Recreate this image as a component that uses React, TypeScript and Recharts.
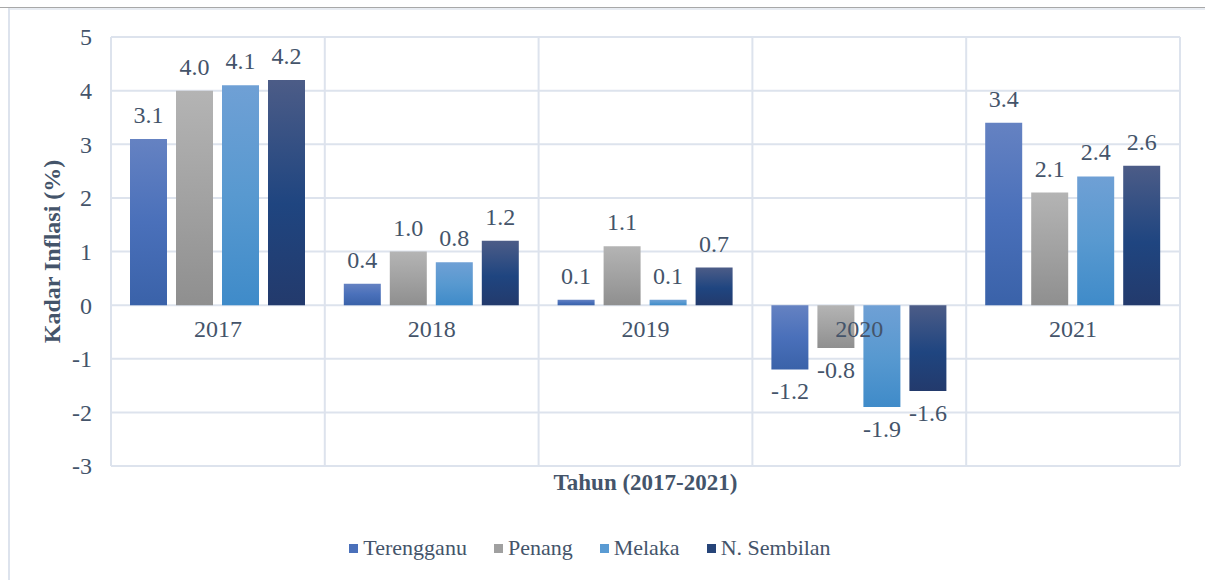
import React from 'react';
import { BarChart, Bar, XAxis, YAxis, CartesianGrid, Legend, LabelList } from 'recharts';

const years = ['2017', '2018', '2019', '2020', '2021'];
const terengganu = [3.1, 0.4, 0.1, -1.2, 3.4];
const penang = [4.0, 1.0, 1.1, -0.8, 2.1];
const melaka = [4.1, 0.8, 0.1, -1.9, 2.4];
const nSembilan = [4.2, 1.2, 0.7, -1.6, 2.6];
const yTicks = [-3, -2, -1, 0, 1, 2, 3, 4, 5];
const seriesNames = ['Terengganu', 'Penang', 'Melaka', 'N. Sembilan'];
const yTitle = 'Kadar Inflasi (%)';
const xTitle = 'Tahun (2017-2021)';

const data = years.map((y, i) => ({
  year: y,
  t: terengganu[i],
  p: penang[i],
  m: melaka[i],
  n: nSembilan[i],
}));

const W = 1205;
const H = 580;
const MARGIN = { top: 37, right: 25, left: 0, bottom: 17 };
const Y_AXIS_W = 111;
const X_AXIS_H = 67;
const LEGEND_H = 30;
const Y_MIN = -3;
const Y_MAX = 5;
const PLOT_TOP = MARGIN.top;
const PLOT_H = H - MARGIN.top - MARGIN.bottom - X_AXIS_H - LEGEND_H;
const ZERO_Y = PLOT_TOP + (PLOT_H * (Y_MAX - 0)) / (Y_MAX - Y_MIN);

const TEXT = '#44546a';
const FONT = '"Liberation Serif", "Times New Roman", serif';
const GRID = '#dde3ed';

const gradients = [
  { id: 'gT', stops: [['0%', '#6582c2'], ['50%', '#4a70ba'], ['100%', '#3a62a9']], swatch: '#4a70ba' },
  { id: 'gP', stops: [['0%', '#b4b4b4'], ['50%', '#a2a2a2'], ['100%', '#8f8f8f']], swatch: '#a0a0a0' },
  { id: 'gM', stops: [['0%', '#6fa0d5'], ['50%', '#5899d0'], ['100%', '#3f8bc9']], swatch: '#5a9bd3' },
  { id: 'gN', stops: [['0%', '#4c5c87'], ['55%', '#1f4580'], ['100%', '#233a6c']], swatch: '#264478' },
];
const keys = ['t', 'p', 'm', 'n'];

const BarLabel = (props: any) => {
  const vb = props.viewBox || props;
  const x = Number(vb.x);
  const y = Number(vb.y);
  const w = Number(vb.width);
  const h = Number(vb.height);
  const v = Number(props.value);
  const top = Math.min(y, y + h);
  const bottom = Math.max(y, y + h);
  const ty = v >= 0 ? top - 16 : bottom + 30;
  return (
    <text x={x + w / 2} y={ty} textAnchor="middle" fill={TEXT} fontFamily={FONT} fontSize={24}>
      {v.toFixed(1)}
    </text>
  );
};

const XTick = (props: any) => {
  const { x, payload } = props;
  return (
    <text x={x} y={ZERO_Y + 32} textAnchor="middle" fill={TEXT} fontFamily={FONT} fontSize={24}>
      {payload.value}
    </text>
  );
};

const YTick = (props: any) => {
  const { x, y, payload } = props;
  return (
    <text x={x} y={y} dy="0.35em" textAnchor="end" fill={TEXT} fontFamily={FONT} fontSize={24}>
      {payload.value}
    </text>
  );
};

const YTitle = (props: any) => {
  const vb = props.viewBox;
  const cx = vb.x + 52;
  const cy = vb.y + vb.height / 2;
  return (
    <text
      x={cx}
      y={cy}
      transform={`rotate(-90 ${cx} ${cy})`}
      textAnchor="middle"
      dominantBaseline="central"
      fill={TEXT}
      fontFamily={FONT}
      fontWeight="bold"
      fontSize={24}
    >
      {yTitle}
    </text>
  );
};

const XTitle = (props: any) => {
  const vb = props.viewBox;
  return (
    <text
      x={vb.x + vb.width / 2}
      y={vb.y + 16}
      textAnchor="middle"
      dominantBaseline="central"
      fill={TEXT}
      fontFamily={FONT}
      fontWeight="bold"
      fontSize={23}
    >
      {xTitle}
    </text>
  );
};

const LegendContent = () => (
  <div
    style={{
      height: LEGEND_H,
      display: 'flex',
      justifyContent: 'center',
      alignItems: 'center',
      fontFamily: FONT,
      fontSize: 22,
      color: TEXT,
    }}
  >
    {seriesNames.map((name, i) => (
      <div key={name} style={{ display: 'flex', alignItems: 'center', marginRight: i < 3 ? 27 : 0 }}>
        <div style={{ width: 9, height: 9, background: gradients[i].swatch, marginRight: 5 }} />
        <span>{name}</span>
      </div>
    ))}
  </div>
);

const verticalGen = (p: any) => {
  const off = p.offset;
  const pts: number[] = [];
  for (let i = 0; i <= years.length; i++) pts.push(off.left + (off.width * i) / years.length);
  return pts;
};

export default function App() {
  return (
    <div style={{ position: 'absolute', left: 0, top: 0, width: W, height: H, overflow: 'hidden', background: '#fff' }}>
      <div style={{ position: 'absolute', left: 0, top: 7, width: W, height: 1, background: '#a8a8a8' }} />
      <div style={{ position: 'absolute', left: 8, top: 8, width: W, height: 2, background: '#e8ecf2' }} />
      <div style={{ position: 'absolute', left: 8, top: 8, width: 2, height: H, background: '#dde3ed' }} />
      <BarChart
        width={W}
        height={H}
        data={data}
        margin={MARGIN}
        barCategoryGap={19}
        barGap={9}
        style={{ position: 'absolute', left: 0, top: 0 }}
      >
        <defs>
          {gradients.map((g) => (
            <linearGradient key={g.id} id={g.id} x1="0" y1="0" x2="0" y2="1">
              {g.stops.map(([o, c]) => (
                <stop key={o} offset={o} stopColor={c} />
              ))}
            </linearGradient>
          ))}
        </defs>
        <CartesianGrid stroke={GRID} strokeWidth={2} verticalCoordinatesGenerator={verticalGen} />
        <XAxis
          dataKey="year"
          height={X_AXIS_H}
          axisLine={false}
          tickLine={false}
          tick={<XTick />}
          interval={0}
          label={<XTitle />}
        />
        <YAxis
          width={Y_AXIS_W}
          domain={[Y_MIN, Y_MAX]}
          ticks={yTicks}
          axisLine={false}
          tickLine={false}
          tickSize={0}
          tickMargin={19}
          tick={<YTick />}
          label={<YTitle />}
        />
        <Legend verticalAlign="bottom" height={LEGEND_H} content={<LegendContent />} />
        {keys.map((k, i) => (
          <Bar key={k} dataKey={k} name={seriesNames[i]} fill={`url(#${gradients[i].id})`} isAnimationActive={false}>
            <LabelList dataKey={k} content={<BarLabel />} />
          </Bar>
        ))}
      </BarChart>
    </div>
  );
}
